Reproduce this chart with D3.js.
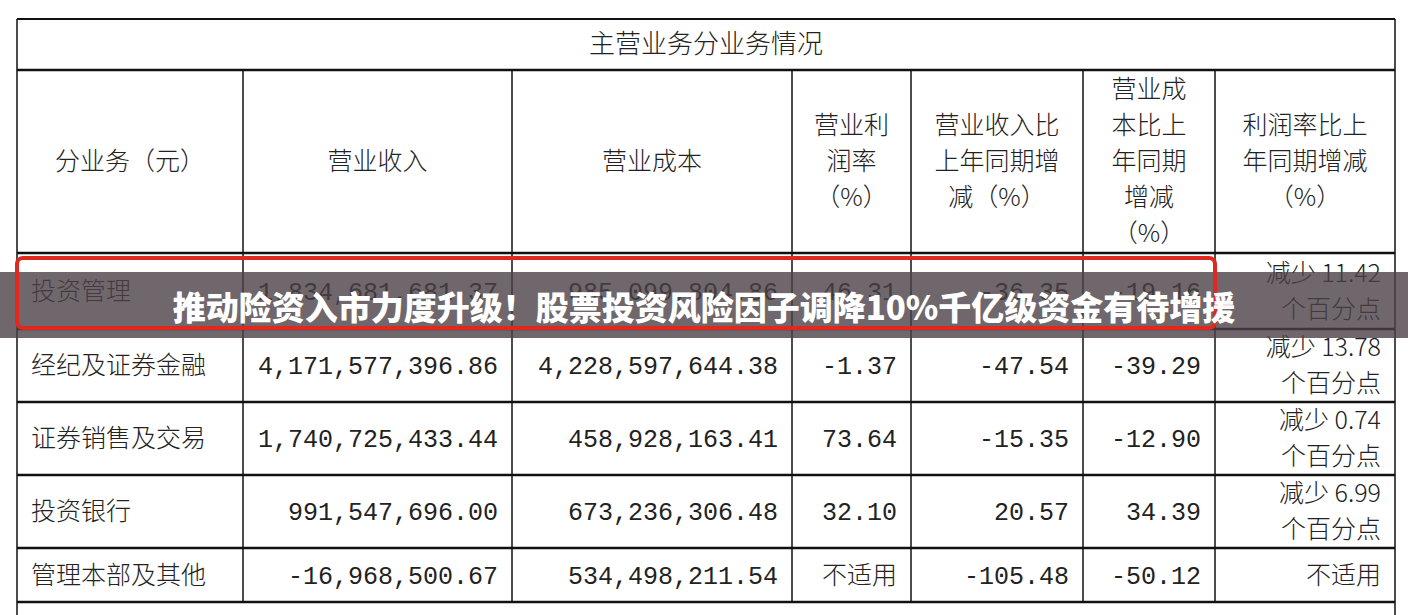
<!DOCTYPE html>
<html><head><meta charset="utf-8">
<script src="https://cdn.jsdelivr.net/npm/d3@7"></script>
<style>body{margin:0;background:#fff}</style>
</head><body>
<svg width="1408" height="615"></svg>
<script>
var title = "主营业务分业务情况";
var headers = [["分业务（元）"], ["营业收入"], ["营业成本"], ["营业利", "润率", "（%）"],
  ["营业收入比", "上年同期增", "减（%）"], ["营业成", "本比上", "年同期", "增减", "（%）"], ["利润率比上", "年同期增减", "（%）"]];
var segments = ["投资管理", "经纪及证券金融", "证券销售及交易", "投资银行", "管理本部及其他"];
var revenue = ["1,834,681,681.37", "4,171,577,396.86", "1,740,725,433.44", "991,547,696.00", "-16,968,500.67"];
var cost = ["985,099,804.86", "4,228,597,644.38", "458,928,163.41", "673,236,306.48", "534,498,211.54"];
var margin = ["46.31", "-1.37", "73.64", "32.10", "不适用"];
var revChange = ["-36.35", "-47.54", "-15.35", "20.57", "-105.48"];
var costChange = ["-19.16", "-39.29", "-12.90", "34.39", "-50.12"];
var marginChange = [["减少 11.42", "个百分点"], ["减少 13.78", "个百分点"], ["减少 0.74", "个百分点"], ["减少 6.99", "个百分点"], ["不适用"]];
var banner = "推动险资入市力度升级！股票投资风险因子调降10%千亿级资金有待增援";

var colEdges = [17, 243, 512, 792, 911, 1083, 1215, 1395];
var rowEdges = [19, 70, 253, 329, 402, 475, 548, 602, 640];

var svg = d3.select("svg");
var font = "'Noto Sans CJK SC',serif";
var numFont = "'Liberation Mono','Noto Sans CJK SC',monospace";
var g = svg.append("g").attr("font-family", font).attr("fill", "#222");

// grid lines
g.selectAll(".h").data(rowEdges.slice(0, 8)).enter().append("line")
  .attr("x1", colEdges[0]).attr("x2", colEdges[7]).attr("y1", d => d).attr("y2", d => d)
  .attr("stroke", "#111").attr("stroke-width", (d, i) => i == 0 ? 2 : 2.5);
g.selectAll(".v").data(colEdges).enter().append("line")
  .attr("x1", d => d).attr("x2", d => d)
  .attr("y1", (d, i) => (i == 0 || i == 7) ? rowEdges[0] : rowEdges[1])
  .attr("y2", (d, i) => (i == 0 || i == 7) ? 615 : rowEdges[7])
  .attr("stroke", "#111").attr("stroke-width", 1.5);

g.append("text").attr("x", (colEdges[0] + colEdges[7]) / 2).attr("y", 53)
  .attr("text-anchor", "middle").attr("font-size", 26).attr("font-weight", 300).text(title);

function cell(lines, col, row, align) {
  var y0 = rowEdges[row], y1 = rowEdges[row + 1], lh = 36;
  var cy = (y0 + y1) / 2 - (lines.length - 1) * lh / 2;
  var x = align == "start" ? colEdges[col] + 14 : align == "end" ? colEdges[col + 1] - 14 : (colEdges[col] + colEdges[col + 1]) / 2;
  g.selectAll(null).data(lines).enter().append("text")
    .attr("x", x).attr("y", (d, i) => cy + i * lh).attr("dy", "0.35em")
    .attr("text-anchor", align).attr("font-size", d => /^[-\d.,]+$/.test(d) ? 25 : 25)
    .attr("font-family", d => /^[-\d.,]+$/.test(d) ? numFont : font)
    .attr("font-weight", 300).text(d => d);
}
headers.forEach((h, i) => cell(h, i, 1, "middle"));
segments.forEach((s, r) => {
  var row = r + 2;
  cell([s], 0, row, "start");
  cell([revenue[r]], 1, row, "end");
  cell([cost[r]], 2, row, "end");
  cell([margin[r]], 3, row, "end");
  cell([revChange[r]], 4, row, "end");
  cell([costChange[r]], 5, row, "end");
  cell(marginChange[r], 6, row, "end");
});

// overlay
svg.append("rect").attr("x", 0).attr("y", 272).attr("width", 1408).attr("height", 66)
  .attr("fill", "rgba(75,65,70,0.8)");
svg.append("rect").attr("x", 17).attr("y", 258).attr("width", 1198).attr("height", 70).attr("rx", 6)
  .attr("fill", "none").attr("stroke", "#e0281e").attr("stroke-width", 4);
svg.append("text").attr("x", 704).attr("y", 320).attr("text-anchor", "middle")
  .attr("font-family", "'Noto Sans CJK SC',sans-serif").attr("font-weight", 900)
  .attr("font-size", 33).attr("fill", "#fff").text(banner);
</script>
</body></html>
